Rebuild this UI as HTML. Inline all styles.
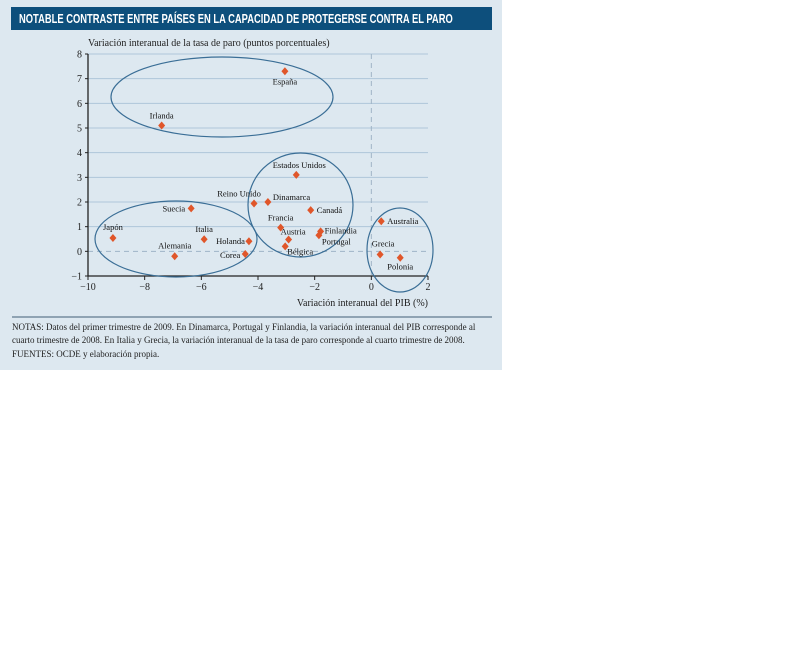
<!DOCTYPE html>
<html><head><meta charset="utf-8">
<style>
html,body{margin:0;padding:0;background:#fff;width:787px;height:669px;overflow:hidden}
#panel{position:absolute;left:0;top:0;width:502px;height:370px;background:#dde8f0}
#titlebar{position:absolute;left:11px;top:7px;width:481px;height:23px;background:#0d4f7c}
#title{position:absolute;left:8px;top:0;color:#fff;font:bold 13px "Liberation Sans",sans-serif;line-height:23px;white-space:nowrap;transform-origin:left center}
#sep{position:absolute;left:12px;top:316px;width:480px;height:2px;background:#8fa3b3}
#notes{position:absolute;left:12px;top:321px;width:484px;font:9px "Liberation Serif",serif;line-height:13.3px;color:#222}
svg{position:absolute;left:0;top:0}
</style></head><body>
<div id="panel">
<div id="titlebar"><div id="title">NOTABLE CONTRASTE ENTRE PAÍSES EN LA CAPACIDAD DE PROTEGERSE CONTRA EL PARO</div></div>
<svg id="chart" width="502" height="320" font-family="Liberation Serif, serif"></svg>
<div id="sep"></div>
<div id="notes">NOTAS: Datos del primer trimestre de 2009. En Dinamarca, Portugal y Finlandia, la variación interanual del PIB corresponde al cuarto trimestre de 2008. En Italia y Grecia, la variación interanual de la tasa de paro corresponde al cuarto trimestre de 2008.<br>FUENTES: OCDE y elaboración propia.</div>
</div>
<script>
const ttl=document.getElementById('title');
ttl.style.transform='scaleX('+(434/ttl.scrollWidth)+')';

const countries=["España","Irlanda","Estados Unidos","Reino Unido","Dinamarca","Canadá","Suecia","Francia","Finlandia","Portugal","Austria","Bélgica","Japón","Italia","Holanda","Alemania","Corea","Australia","Grecia","Polonia"];
const gdp=[-3.05,-7.4,-2.65,-4.14,-3.65,-2.14,-6.36,-3.2,-1.79,-1.85,-2.92,-3.04,-9.12,-5.9,-4.32,-6.94,-4.45,0.35,0.31,1.02];
const unemp=[7.3,5.1,3.1,1.94,2.0,1.67,1.74,0.96,0.81,0.65,0.48,0.2,0.54,0.49,0.41,-0.2,-0.11,1.22,-0.13,-0.26];
const xTicks=[-10,-8,-6,-4,-2,0,2];
const xTickLabels=["−10","−8","−6","−4","−2","0","2"];
const yTicks=[-1,0,1,2,3,4,5,6,7,8];
const yTickLabels=["−1","0","1","2","3","4","5","6","7","8"];

const X0=88,X1=428,Y0=276,Y1=54,xmin=-10,xmax=2,ymin=-1,ymax=8;
const sx=v=>X0+(v-xmin)/(xmax-xmin)*(X1-X0);
const sy=v=>Y0-(v-ymin)/(ymax-ymin)*(Y0-Y1);
const svg=document.getElementById('chart');const NS="http://www.w3.org/2000/svg";
function mk(t,a,p){const e=document.createElementNS(NS,t);for(const k in a)e.setAttribute(k,a[k]);(p||svg).appendChild(e);return e;}

yTicks.forEach((v,i)=>{
  if(v>ymin){const g=mk('line',{x1:X0,x2:X1,y1:sy(v),y2:sy(v),stroke:v===0?'#9fb4c6':'#aec6da','stroke-width':1,'stroke-dasharray':v===0?'5,4':'none'});
  
  }
  const t=mk('text',{x:X0-6,y:sy(v)+3.5,'text-anchor':'end','font-size':10,fill:'#222'});t.textContent=yTickLabels[i];
  
  
  const tk=mk('line',{x1:X0-3,x2:X0,y1:sy(v),y2:sy(v),stroke:'#222'});
  
  
});
const vz=mk('line',{x1:sx(0),x2:sx(0),y1:Y1,y2:Y0,stroke:'#9fb4c6','stroke-dasharray':'5,4'});


xTicks.forEach((v,i)=>{
  const tk=mk('line',{x1:sx(v),x2:sx(v),y1:Y0,y2:Y0+4,stroke:'#222'});
  
  
  const t=mk('text',{x:sx(v),y:Y0+14,'text-anchor':'middle','font-size':10,fill:'#222'});t.textContent=xTickLabels[i];
  
  
});
const ax=mk('path',{d:`M${X0},${Y1} V${Y0} H${X1}`,fill:'none',stroke:'#222','stroke-width':1.3});



const ells=[[222,97,111,40],[176,239,81,38],[300.5,205,52.5,52],[400,250,33,42]];
ells.forEach(e=>{const el=mk('ellipse',{cx:e[0],cy:e[1],rx:e[2],ry:e[3],fill:'none',stroke:'#3a6e96','stroke-width':1.2});

});

const off={"España":[0,13,'middle'],"Irlanda":[0,-7,'middle'],"Estados Unidos":[3,-7,'middle'],"Reino Unido":[-15,-7,'middle'],"Dinamarca":[5,-2,'start'],"Canadá":[6,3,'start'],"Suecia":[-6,3,'end'],"Francia":[0,-7,'middle'],"Finlandia":[4,2,'start'],"Portugal":[3,9,'start'],"Austria":[-8,-5,'start'],"Bélgica":[2,8,'start'],"Japón":[0,-8,'middle'],"Italia":[0,-7,'middle'],"Holanda":[-4,3,'end'],"Alemania":[0,-8,'middle'],"Corea":[-5,4,'end'],"Australia":[6,3,'start'],"Grecia":[3,-8,'middle'],"Polonia":[0,12,'middle']};
countries.forEach((c,i)=>{
  const x=sx(gdp[i]),y=sy(unemp[i]);
  const p=mk('path',{d:`M${x},${y-4} L${x+3.5},${y} L${x},${y+4} L${x-3.5},${y}Z`,fill:'#e0562a'});
  
  
  const o=off[c];
  const t=mk('text',{x:x+o[0],y:y+o[1],'text-anchor':o[2],'font-size':8.5,fill:'#111'});t.textContent=c;
  
  
});
const yt=mk('text',{x:88,y:46,'font-size':10,fill:'#222'});yt.textContent="Variación interanual de la tasa de paro (puntos porcentuales)";


const xt=mk('text',{x:428,y:306,'text-anchor':'end','font-size':10,fill:'#222'});xt.textContent="Variación interanual del PIB (%)";


</script>
</body></html>
